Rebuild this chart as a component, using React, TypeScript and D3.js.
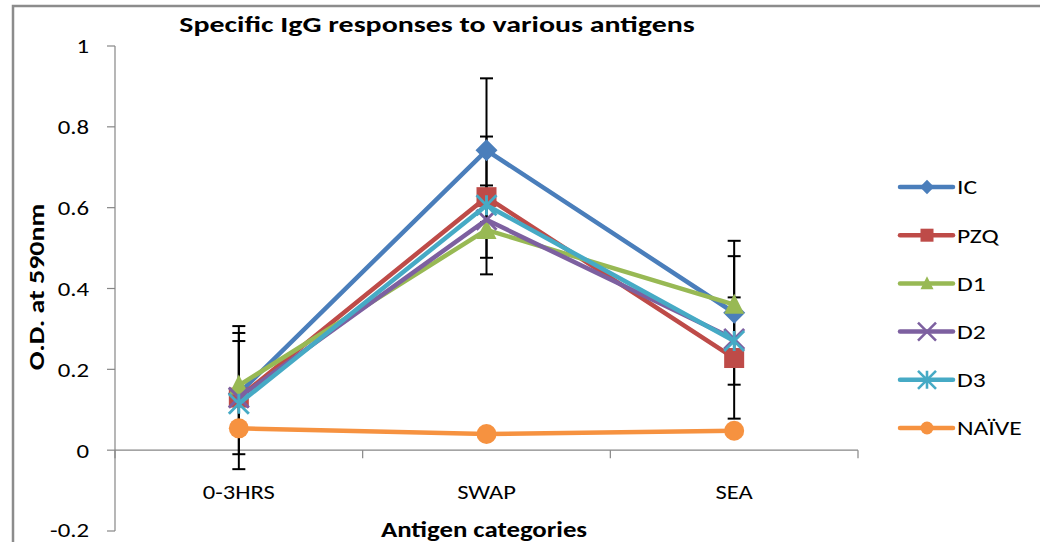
import React from "react";
import * as d3 from "d3";

const categories = ["0-3HRS", "SWAP", "SEA"];
const seriesNames = ["IC", "PZQ", "D1", "D2", "D3", "NAÏVE"];
const icValues = [0.14, 0.742, 0.34];
const pzqValues = [0.13, 0.626, 0.228];
const d1Values = [0.16, 0.545, 0.36];
const d2Values = [0.13, 0.57, 0.275];
const d3Values = [0.115, 0.606, 0.27];
const naiveValues = [0.054, 0.04, 0.048];
const icErrors = [0.15, 0.178, 0.178];
const pzqErrors = [0.177, 0.15, 0.15];
const d1Errors = [0.11, 0.11, 0.12];
const yTicks = [-0.2, 0, 0.2, 0.4, 0.6, 0.8, 1];
const yTickLabels = ["-0.2", "0", "0.2", "0.4", "0.6", "0.8", "1"];

const colors = ["#4A7EBB", "#BE4B48", "#98B954", "#7D60A0", "#46AAC5", "#F69240"];
const markers = ["diamond", "square", "triangle", "x", "asterisk", "circle"];
const allValues = [icValues, pzqValues, d1Values, d2Values, d3Values, naiveValues];
const allErrors = [icErrors, pzqErrors, d1Errors, null, null, null];

const FONT = "Carlito, Calibri, Lato, 'Open Sans', sans-serif";

function SText({
  x,
  y,
  sx,
  anchor,
  size,
  bold,
  rotate,
  children,
}: {
  x: number;
  y: number;
  sx: number;
  anchor: string;
  size: number;
  bold?: boolean;
  rotate?: number;
  children: React.ReactNode;
}) {
  return (
    <g transform={`translate(${x},${y})${rotate ? ` rotate(${rotate})` : ""} scale(${sx},1)`}>
      <text x={0} y={0} dy="0.35em" textAnchor={anchor} fontSize={size} fontWeight={bold ? "bold" : "normal"} fill="#000">
        {children}
      </text>
    </g>
  );
}

function Marker({ type, x, y, size, color }: { type: string; x: number; y: number; size: number; color: string }) {
  const h = size / 2;
  if (type === "diamond")
    return <path d={`M${x},${y - h * 1.1}L${x + h * 1.1},${y}L${x},${y + h * 1.1}L${x - h * 1.1},${y}Z`} fill={color} />;
  if (type === "square") return <rect x={x - h} y={y - h} width={size} height={size} fill={color} />;
  if (type === "triangle")
    return <path d={`M${x},${y - h * 1.1}L${x + h},${y + h * 0.9}L${x - h},${y + h * 0.9}Z`} fill={color} />;
  if (type === "circle") return <circle cx={x} cy={y} r={h} fill={color} />;
  if (type === "x")
    return (
      <path d={`M${x - h},${y - h}L${x + h},${y + h}M${x - h},${y + h}L${x + h},${y - h}`} stroke={color} strokeWidth={size / 7} />
    );
  return (
    <path
      d={`M${x - h},${y - h}L${x + h},${y + h}M${x - h},${y + h}L${x + h},${y - h}M${x},${y - h}L${x},${y + h}`}
      stroke={color}
      strokeWidth={size / 7}
    />
  );
}

export default function App() {
  const W = 1040;
  const H = 542;
  const left = 115;
  const right = 858;
  const y = d3.scaleLinear().domain([-0.2, 1]).range([531, 46]);
  const x = d3.scaleBand().domain(categories).range([left, right]);
  const cx = (c: string) => (x(c) as number) + x.bandwidth() / 2;
  const line = d3
    .line<number>()
    .x((_, i) => cx(categories[i]))
    .y((v) => y(v));

  const bounds = [left, ...categories.map((c) => (x(c) as number) + x.bandwidth())];

  return (
    <svg width={W} height={H} style={{ position: "absolute", left: 0, top: 0, background: "#fff" }} fontFamily={FONT}>
      <rect width={W} height={H} fill="#fff" />
      <path d={`M13,542L13,6L1040,6`} fill="none" stroke="#8c8c8c" strokeWidth={2.5} />
      <SText x={437} y={24} sx={1.33} anchor="middle" size={22.5} bold>
        Specific IgG responses to various antigens
      </SText>
      <line x1={left} x2={left} y1={y(1)} y2={y(-0.2)} stroke="#868686" strokeWidth={1.2} />
      {yTicks.map((t, i) => (
        <g key={t}>
          <line x1={107} x2={left} y1={y(t)} y2={y(t)} stroke="#868686" strokeWidth={1.2} />
          <SText x={89} y={y(t) - (i === 0 ? 1.5 : 0)} sx={1.18} anchor="end" size={21}>
            {yTickLabels[i]}
          </SText>
        </g>
      ))}
      <line x1={left} x2={right} y1={y(0)} y2={y(0)} stroke="#868686" strokeWidth={1.2} />
      {bounds.map((b, i) => (
        <line key={i} x1={b} x2={b} y1={y(0)} y2={y(0) + 8} stroke="#868686" strokeWidth={1.2} />
      ))}
      {categories.map((c) => (
        <SText key={c} x={cx(c)} y={492} sx={1.17} anchor="middle" size={21}>
          {c}
        </SText>
      ))}
      <SText x={484} y={529} sx={1.22} anchor="middle" size={22} bold>
        Antigen categories
      </SText>
      <SText x={36} y={287} sx={1.27} rotate={-90} anchor="middle" size={22} bold>
        O.D. at 590nm
      </SText>
      {allErrors.map((errs, si) =>
        errs
          ? errs.map((e, i) => {
              const px = cx(categories[i]);
              const v = allValues[si][i];
              return (
                <g key={`${si}-${i}`} stroke="#000" strokeWidth={2}>
                  <line x1={px} x2={px} y1={y(v + e)} y2={y(v - e)} />
                  <line x1={px - 6.5} x2={px + 6.5} y1={y(v + e)} y2={y(v + e)} />
                  <line x1={px - 6.5} x2={px + 6.5} y1={y(v - e)} y2={y(v - e)} />
                </g>
              );
            })
          : null
      )}
      {allValues.map((vals, si) => (
        <g key={seriesNames[si]}>
          <path d={line(vals) as string} fill="none" stroke={colors[si]} strokeWidth={4.5} strokeLinejoin="round" />
          {vals.map((v, i) => (
            <Marker key={i} type={markers[si]} x={cx(categories[i])} y={y(v)} size={20} color={colors[si]} />
          ))}
        </g>
      ))}
      {seriesNames.map((n, si) => {
        const ly = 187 + si * 48.2;
        return (
          <g key={n}>
            <line x1={900} x2={953} y1={ly} y2={ly} stroke={colors[si]} strokeWidth={4.5} strokeLinecap="round" />
            <Marker type={markers[si]} x={927} y={ly} size={si === 3 || si === 4 ? 18 : 13} color={colors[si]} />
            <SText x={957} y={ly} sx={1.22} anchor="start" size={21}>
              {n}
            </SText>
          </g>
        );
      })}
    </svg>
  );
}
